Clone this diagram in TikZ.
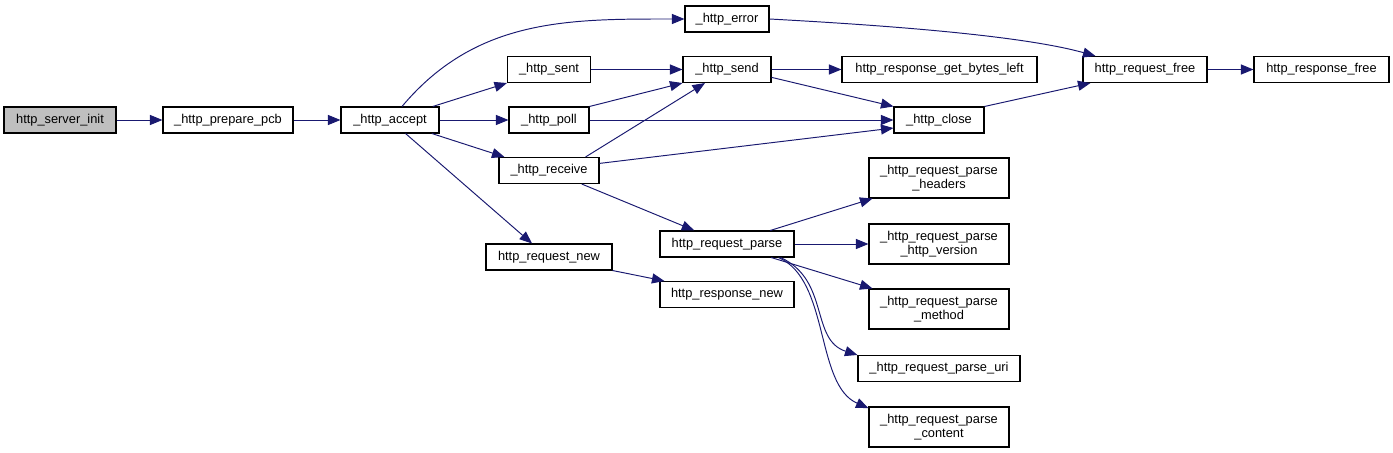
\documentclass[tikz,border=0pt]{standalone}
\usepackage{fontspec}
\setmainfont{Liberation Sans}
\usetikzlibrary{arrows.meta}
\usepackage{xcolor}
\definecolor{edgecolor}{RGB}{25,25,112}
\definecolor{rootcolor}{RGB}{191,191,191}

\begin{document}
\begin{tikzpicture}[
    x=0.02cm, y=-0.02cm,
    box/.style={rectangle, draw, line width=0.6pt, inner sep=0pt, minimum height=0.52cm, align=center, fill=white, font=\fontsize{7.3}{7.8}\selectfont},
    tall/.style={minimum height=0.8cm},
    wd/.style={minimum width=#1*0.02cm},
    arrow/.style={->, >={Triangle[length=0.25cm, width=0.2cm]}, draw=edgecolor, line width=0.55pt}
]
    \useasboundingbox (0,0) rectangle (1393,453);

    % Caller
    \node[box, wd=112, fill=rootcolor] (init) at (60,120) {http\_server\_init};
    \node[box, wd=130] (pcb) at (228,120) {\_http\_prepare\_pcb};
    \node[box, wd=98] (accept) at (390,120) {\_http\_accept};

    % Callbacks
    \node[box, wd=83] (sent) at (549,69.5) {\_http\_sent};
    \node[box, wd=80] (poll) at (549,120) {\_http\_poll};
    \node[box, wd=100] (receive) at (549,170.5) {\_http\_receive};
    \node[box, wd=126] (reqnew) at (549,257) {http\_request\_new};

    % Second level
    \node[box, wd=84] (error) at (727,19) {\_http\_error};
    \node[box, wd=88] (send) at (727,69.5) {\_http\_send};
    \node[box, wd=134] (parse) at (727,244) {http\_request\_parse};
    \node[box, wd=134] (respnew) at (727,294.5) {http\_response\_new};

    % Third level
    \node[box, wd=195] (bytesleft) at (939.5,69.5) {http\_response\_get\_bytes\_left};
    \node[box, wd=90] (close) at (939,120) {\_http\_close};
    \node[box, tall, wd=140] (headers) at (939,178) {\_http\_request\_parse\\\_headers};
    \node[box, tall, wd=140] (version) at (939,244) {\_http\_request\_parse\\\_http\_version};
    \node[box, tall, wd=140] (method) at (939,309) {\_http\_request\_parse\\\_method};
    \node[box, wd=162] (uri) at (939,368.5) {\_http\_request\_parse\_uri};
    \node[box, tall, wd=140] (content) at (939,427) {\_http\_request\_parse\\\_content};

    % Cleanup
    \node[box, wd=124] (reqfree) at (1145,69.5) {http\_request\_free};
    \node[box, wd=135] (respfree) at (1321.5,69.5) {http\_response\_free};

    % Arrows
    \draw[arrow] (init) -- (pcb);
    \draw[arrow] (pcb) -- (accept);
    \draw[arrow] ([xshift=0.24cm]accept.north) to[out=50, in=180] (error.west);
    \draw[arrow] (accept) -- (sent.south west);
    \draw[arrow] (accept) -- (poll);
    \draw[arrow] (accept) -- ([xshift=0.12cm]receive.north west);
    \draw[arrow] (accept) -- ([xshift=-0.34cm]reqnew.north);
    \draw[arrow] (sent) -- (send);
    \draw[arrow] (poll.north east) -- (send.south west);
    \draw[arrow] (poll) -- (close);
    \draw[arrow] ([xshift=-0.28cm]receive.north east) -- ([xshift=-0.44cm]send.south);
    \draw[arrow] (receive.8) -- (close.190);
    \draw[arrow] (receive) -- (parse);
    \draw[arrow] (send) -- (bytesleft);
    \draw[arrow] (send.-10) -- (close.north west);
    \draw[arrow] (error.east) .. controls (880,25) and (1020,35) .. ([xshift=0.26cm]reqfree.north west);
    \draw[arrow] (close.north east) -- ([xshift=0.16cm]reqfree.south west);
    \draw[arrow] (reqfree) -- (respfree);
    \draw[arrow] (reqnew.south east) -- ([xshift=0.1cm]respnew.north west);
    \draw[arrow] (parse) -- ([xshift=0.08cm]headers.south west);
    \draw[arrow] (parse) -- (version);
    \draw[arrow] (parse) -- ([xshift=0.08cm]method.north west);
    \draw[arrow] ([xshift=-0.28cm]parse.south east) .. controls (830,280) and (810,340) .. (uri.north west);
    \draw[arrow] ([xshift=-0.32cm]parse.south east) .. controls (830,280) and (815,385) .. (content.165);

\end{tikzpicture}
\end{document}
